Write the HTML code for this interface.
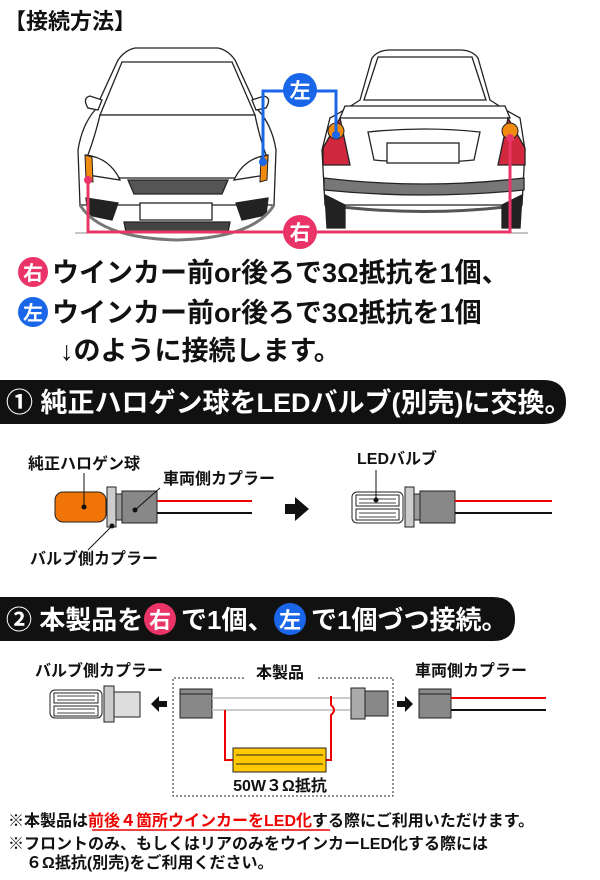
<!DOCTYPE html>
<html><head><meta charset="utf-8"><style>
body{margin:0;background:#fff;width:600px;height:880px;overflow:hidden;font-family:"Liberation Sans","Noto Sans CJK JP",sans-serif;}
svg{position:absolute;left:0;top:0}
text{font-family:"Liberation Sans","Noto Sans CJK JP",sans-serif;font-weight:bold}
</style></head><body>
<svg width="600" height="880" viewBox="0 0 600 880">
<text x="4" y="29" font-size="22" fill="#111">【接続方法】</text>

<!-- FRONT CAR -->
<g stroke="#222" stroke-width="1.3" fill="#fff">
 <path d="M80 205 L78 150 Q82 125 95 110 L118 60 Q125 50 135 48 L218 48 Q228 50 235 60 L258 110 Q272 125 276 150 L274 205 Z"/>
 <path d="M122 62 L232 62 L255 115 L100 115 Z"/>
 <path d="M88 108 Q82 98 90 96 L102 100 L98 110 Z"/>
 <path d="M266 108 Q272 98 264 96 L252 100 L256 110 Z"/>
 <path d="M100 115 L255 115 Q260 140 268 160 L235 178 L120 178 L86 160 Q94 140 100 115 Z"/>
 <path d="M86 155 Q110 158 120 180 L88 175 Z"/>
 <path d="M268 155 Q244 158 234 180 L266 175 Z"/>
 <path d="M128 180 L228 180 L222 194 L134 194 Z" fill="#555"/>
 <rect x="140" y="203" width="72" height="17" fill="#fff"/>
 <path d="M86 198 L118 203 L112 220 L88 215 Z" fill="#222"/>
 <path d="M268 198 L236 203 L242 220 L266 215 Z" fill="#222"/>
 <path d="M124 222 L230 222 L228 232 L126 232 Z" fill="#444"/>
 <path d="M80 205 Q100 238 177 240 Q254 238 274 205" fill="none" stroke="#777" stroke-width="3"/>
</g>
<path d="M85 155 L92 157 L93 182 L86 180 Z" fill="#f08a10" stroke="#222"/>
<path d="M268 155 L261 157 L260 182 L267 180 Z" fill="#f08a10" stroke="#222"/>
<line x1="75" y1="233" x2="280" y2="233" stroke="#888" stroke-width="1"/>

<!-- REAR CAR -->
<g stroke="#222" stroke-width="1.3" fill="#fff">
 <path d="M325 205 L322 150 L330 118 Q345 110 360 100 L372 58 Q378 50 390 50 L460 50 Q472 50 478 58 L490 100 Q505 110 520 118 L525 150 L522 205 Z"/>
 <path d="M378 57 L472 57 L486 100 L364 100 Z"/>
 <path d="M345 106 L505 106 L510 118 L340 118 Z"/>
 <path d="M323 148 L340 118 L350 165 L323 165 Z" fill="#d2283e"/>
 <path d="M525 148 L508 118 L498 165 L525 165 Z" fill="#d2283e"/>
 <path d="M368 132 Q424 126 480 132 L474 160 Q424 165 374 160 Z"/>
 <rect x="387" y="143" width="72" height="20"/>
 <path d="M324 178 Q424 190 524 178 L524 190 Q424 200 324 190 Z" fill="#777"/>
 <path d="M325 205 Q424 218 522 205" fill="none" stroke="#555" stroke-width="3"/>
 <path d="M325 195 L327 228 L345 228 L345 205 Z" fill="#222"/>
 <path d="M522 195 L520 228 L502 228 L502 205 Z" fill="#222"/>
</g>
<circle cx="336" cy="131" r="8" fill="#f08a10" stroke="#222"/>
<circle cx="510" cy="131" r="8" fill="#f08a10" stroke="#222"/>
<line x1="318" y1="233" x2="528" y2="233" stroke="#888"/>

<polyline points="263,162 263,91 336,91 336,131" fill="none" stroke="#1a66e8" stroke-width="3"/>
<circle cx="263" cy="162" r="4" fill="#1a66e8"/>
<circle cx="336" cy="135" r="4" fill="#1a66e8"/>
<circle cx="300" cy="90" r="17" fill="#1a66e8"/>
<text x="300" y="98" font-size="21" fill="#fff" text-anchor="middle">左</text>
<polyline points="88,180 88,232 510,232 510,135" fill="none" stroke="#ea3467" stroke-width="3"/>
<circle cx="88" cy="180" r="4" fill="#ea3467"/>
<circle cx="510" cy="138" r="4" fill="#ea3467"/>
<circle cx="300" cy="232" r="17" fill="#ea3467"/>
<text x="300" y="240" font-size="21" fill="#fff" text-anchor="middle">右</text>

<!-- instruction lines -->
<circle cx="33" cy="272" r="15" fill="#ea3467"/>
<text x="33" y="280" font-size="20" fill="#fff" text-anchor="middle">右</text>
<text x="52" y="282" font-size="27" fill="#111">ウインカー前or後ろで3Ω抵抗を1個、</text>
<circle cx="33" cy="312" r="15" fill="#1a66e8"/>
<text x="33" y="320" font-size="20" fill="#fff" text-anchor="middle">左</text>
<text x="52" y="322" font-size="27" fill="#111">ウインカー前or後ろで3Ω抵抗を1個</text>
<text x="60" y="360" font-size="27" fill="#111">↓のように接続します。</text>

<!-- band 1 -->
<path d="M0 380 L543 380 Q566 380 566 402 Q566 424 543 424 L0 424 Z" fill="#111"/>
<text x="6" y="412" font-size="27" fill="#fff">① 純正ハロゲン球をLEDバルブ(別売)に交換。</text>

<!-- section 1 -->
<text x="28" y="469" font-size="16" fill="#111">純正ハロゲン球</text>
<rect x="55" y="492" width="51" height="30" rx="8" fill="#f07406" stroke="#222"/>
<rect x="107" y="487" width="9" height="40" fill="#ccc" stroke="#222"/>
<rect x="116" y="494" width="7" height="26" fill="#999" stroke="#222"/>
<rect x="122" y="491" width="35" height="32" fill="#888" stroke="#222"/>
<line x1="157" y1="501" x2="252" y2="501" stroke="#e00" stroke-width="2"/>
<line x1="157" y1="513" x2="252" y2="513" stroke="#111" stroke-width="2"/>
<line x1="84" y1="473" x2="84" y2="507" stroke="#111"/><circle cx="84" cy="507" r="2.5" fill="#111"/>
<text x="163" y="484" font-size="16" fill="#111">車両側カプラー</text>
<line x1="160" y1="488" x2="135" y2="510" stroke="#111"/><circle cx="135" cy="510" r="2.5" fill="#111"/>
<line x1="112" y1="526" x2="88" y2="550" stroke="#111"/><circle cx="112" cy="526" r="2.5" fill="#111"/>
<text x="30" y="564" font-size="16" fill="#111">バルブ側カプラー</text>
<path d="M285 504 L295 504 L295 497 L309 509 L295 521 L295 514 L285 514 Z" fill="#111"/>
<text x="357" y="464" font-size="16" fill="#111">LEDバルブ</text>
<g stroke="#222" fill="#fff">
<rect x="352" y="492" width="51" height="31" rx="5"/>
<rect x="356" y="495" width="43" height="11"/><rect x="356" y="509" width="43" height="11"/>
</g>
<g stroke="#444"><line x1="359" y1="499" x2="396" y2="499"/><line x1="359" y1="503" x2="396" y2="503"/><line x1="359" y1="513" x2="396" y2="513"/><line x1="359" y1="517" x2="396" y2="517"/></g>
<line x1="376" y1="470" x2="376" y2="500" stroke="#111"/><circle cx="376" cy="500" r="2.5" fill="#111"/>
<rect x="405" y="487" width="9" height="40" fill="#ccc" stroke="#222"/>
<rect x="414" y="494" width="7" height="26" fill="#999" stroke="#222"/>
<rect x="420" y="491" width="35" height="32" fill="#888" stroke="#222"/>
<line x1="455" y1="501" x2="552" y2="501" stroke="#e00" stroke-width="2"/>
<line x1="455" y1="513" x2="552" y2="513" stroke="#111" stroke-width="2"/>

<!-- band 2 -->
<path d="M0 597 L493 597 Q515 597 515 619 Q515 641 493 641 L0 641 Z" fill="#111"/>
<text x="6" y="629" font-size="26" fill="#fff">② 本製品を</text>
<circle cx="160" cy="619" r="16" fill="#ea3467"/><text x="160" y="628" font-size="22" fill="#fff" text-anchor="middle">右</text>
<text x="181" y="629" font-size="26" fill="#fff">で1個、</text>
<circle cx="290" cy="619" r="16" fill="#1a66e8"/><text x="290" y="628" font-size="22" fill="#fff" text-anchor="middle">左</text>
<text x="311" y="629" font-size="26" fill="#fff">で1個づつ接続。</text>

<!-- section 2 -->
<text x="35" y="676" font-size="16" fill="#111">バルブ側カプラー</text>
<text x="280" y="678" font-size="16" fill="#111" text-anchor="middle">本製品</text>
<text x="415" y="676" font-size="16" fill="#111">車両側カプラー</text>
<path d="M318 678 L393 678 L393 796 L173 796 L173 678 L245 678" fill="none" stroke="#222" stroke-dasharray="2,2"/>
<g stroke="#222" fill="#fff">
<rect x="50" y="690" width="52" height="28" rx="5"/>
<rect x="54" y="693" width="44" height="10"/><rect x="54" y="706" width="44" height="10"/>
</g>
<g stroke="#444"><line x1="57" y1="696" x2="95" y2="696"/><line x1="57" y1="700" x2="95" y2="700"/><line x1="57" y1="709" x2="95" y2="709"/><line x1="57" y1="713" x2="95" y2="713"/></g>
<rect x="104" y="686" width="10" height="36" fill="#ccc" stroke="#222"/>
<rect x="114" y="692" width="26" height="25" fill="#ddd" stroke="#222"/>
<path d="M167 701 L159 701 L159 696 L151 704 L159 712 L159 707 L167 707 Z" fill="#111"/>
<rect x="180" y="689" width="32" height="29" fill="#888" stroke="#222"/>
<line x1="180" y1="694" x2="212" y2="694" stroke="#222"/>
<line x1="212" y1="698" x2="350" y2="698" stroke="#ccc" stroke-width="2"/>
<line x1="212" y1="710" x2="350" y2="710" stroke="#ccc" stroke-width="2"/>
<polyline points="225,710 225,760 233,760" fill="none" stroke="#e00" stroke-width="2"/>
<path d="M326 760 L331 760 L331 715 Q337 710 331 705 L331 696" fill="none" stroke="#e00" stroke-width="2"/>
<rect x="233" y="748" width="93" height="24" fill="#ffc800" stroke="#222"/>
<line x1="236" y1="755" x2="323" y2="755" stroke="#222"/><line x1="236" y1="764" x2="323" y2="764" stroke="#222"/>
<text x="280" y="791" font-size="16" fill="#111" text-anchor="middle">50W３Ω抵抗</text>
<rect x="351" y="688" width="14" height="31" fill="#aaa" stroke="#222"/>
<rect x="365" y="691" width="23" height="25" fill="#888" stroke="#222"/>
<path d="M397 701 L405 701 L405 696 L413 704 L405 712 L405 707 L397 707 Z" fill="#111"/>
<rect x="419" y="689" width="32" height="29" fill="#888" stroke="#222"/>
<line x1="419" y1="694" x2="451" y2="694" stroke="#222"/>
<line x1="451" y1="698" x2="546" y2="698" stroke="#e00" stroke-width="2"/>
<line x1="451" y1="710" x2="546" y2="710" stroke="#111" stroke-width="2"/>

<!-- notes -->
<text x="8" y="826" font-size="16" fill="#111">※本製品は<tspan fill="#e00">前後４箇所ウインカーをLED化</tspan>する際にご利用いただけます。</text>
<line x1="92" y1="830" x2="330" y2="830" stroke="#e00" stroke-width="1.5"/>
<text x="8" y="849" font-size="16" fill="#111">※フロントのみ、もしくはリアのみをウインカーLED化する際には</text>
<text x="26" y="868" font-size="16" fill="#111">６Ω抵抗(別売)をご利用ください。</text>
</svg>
</body></html>
